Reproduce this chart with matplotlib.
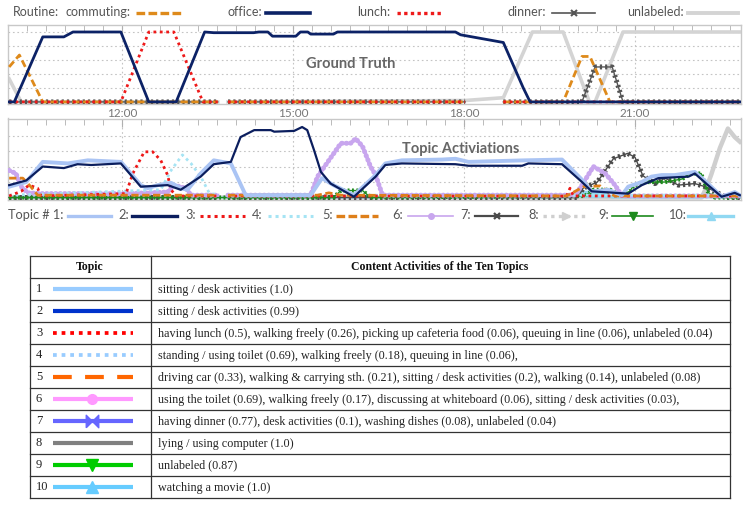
import numpy as np
import matplotlib
matplotlib.use("Agg")
import matplotlib.pyplot as plt
from matplotlib.ticker import MultipleLocator, FixedLocator

nan = np.nan

# ---------------- Ground truth routines (time in hours, activation 0..1) -------------
commuting_t = [10.02, 10.20, 10.61, 13.68, 13.77, 13.86, 18.02, 18.30, 18.69, 19.74, 20.07, 20.21, 20.56, 22.84]
commuting_v = [0.50, 0.67, 0.00, 0.00, nan, 0.00, 0.00, nan, 0.00, 0.00, 0.65, 0.65, 0.00, 0.00]

office_t = [10.02, 10.11, 10.61, 10.98, 11.14, 11.98, 12.47, 12.95, 13.45, 13.61, 14.31, 14.40, 14.56,
            14.64, 15.05, 15.13, 15.26, 15.31, 15.71, 15.78, 17.85, 17.94, 18.69, 19.04, 19.16, 22.84]
office_v = [0.00, 0.00, 0.93, 0.93, 1.00, 1.00, 0.00, 0.00, 1.00, 0.99, 0.99, 1.00, 1.00,
            0.94, 0.94, 1.00, 1.00, 0.97, 0.97, 1.00, 1.00, 0.96, 0.85, 0.20, 0.00, 0.00]

lunch_t = [10.02, 11.98, 12.47, 12.91, 13.42, 13.68, 13.77, 13.86, 18.02, 18.30, 18.69, 22.84]
lunch_v = [0.00, 0.00, 1.00, 1.00, 0.00, 0.00, nan, 0.00, 0.00, nan, 0.00, 0.00]

dinner_t = [10.02, 13.68, 13.77, 13.86, 18.02, 18.30, 18.69, 20.07, 20.30, 20.60, 20.79, 22.84]
dinner_v = [0.00, 0.00, nan, 0.00, 0.00, nan, 0.00, 0.00, 0.50, 0.50, 0.00, 0.00]

unlabeled_t = [10.02, 10.23, 13.68, 13.77, 13.86, 18.02, 18.69, 19.20, 19.74, 20.20, 20.30, 20.79, 22.84]
unlabeled_v = [0.33, 0.00, 0.00, nan, 0.00, 0.02, 0.06, 1.00, 1.00, 0.00, 0.00, 1.00, 1.00]

# ---------------- Topic activations -------------
t1_t = [10.02, 10.32, 10.61, 11.05, 11.40, 11.98, 12.33, 12.45, 12.63, 12.86, 13.03, 13.15, 13.38, 13.61,
        13.91, 14.17, 15.31, 15.51, 15.71, 16.07, 16.45, 16.62, 16.91, 17.61, 17.85, 18.08, 19.07, 19.72,
        20.07, 20.24, 20.53, 20.77, 20.88, 21.12, 21.29, 21.47, 21.70, 22.05, 22.28, 22.52, 22.75, 22.84]
t1_v = [0.14, 0.20, 0.46, 0.44, 0.48, 0.46, 0.16, 0.12, 0.16, 0.19, 0.12, 0.10, 0.31, 0.48,
        0.44, 0.03, 0.03, 0.25, 0.16, 0.03, 0.29, 0.44, 0.48, 0.49, 0.50, 0.46, 0.48, 0.49,
        0.23, 0.08, 0.10, 0.03, 0.14, 0.20, 0.27, 0.29, 0.29, 0.33, 0.18, 0.01, 0.07, 0.03]

t2_t = [10.02, 10.32, 10.61, 10.98, 11.22, 11.46, 11.98, 12.33, 12.80, 13.03, 13.38, 13.61, 13.91, 14.08,
        14.32, 14.61, 14.67, 15.02, 15.16, 15.25, 15.37, 15.49, 15.66, 16.07, 16.45, 16.62, 16.91, 17.85,
        18.08, 19.02, 19.13, 19.72, 20.07, 20.24, 20.88, 21.12, 21.41, 21.94, 22.05, 22.28, 22.52, 22.75, 22.84]
t2_v = [0.16, 0.22, 0.40, 0.38, 0.43, 0.42, 0.44, 0.14, 0.16, 0.10, 0.27, 0.43, 0.46, 0.78,
        0.87, 0.87, 0.85, 0.86, 0.91, 0.87, 0.61, 0.33, 0.18, 0.01, 0.27, 0.42, 0.44, 0.43,
        0.41, 0.41, 0.44, 0.43, 0.20, 0.08, 0.05, 0.16, 0.25, 0.27, 0.31, 0.16, 0.01, 0.06, 0.03]

t3_t = [10.02, 10.23, 10.37, 10.52, 10.58, 12.07, 12.19, 12.39, 12.54, 12.68, 12.80, 12.86, 12.95,
        13.68, 13.77, 13.86, 19.80, 19.86, 19.92, 22.84]
t3_v = [0.02, 0.08, 0.16, 0.12, 0.02, 0.05, 0.31, 0.59, 0.59, 0.48, 0.29, 0.10, 0.02,
        0.02, nan, 0.02, 0.02, 0.12, 0.02, 0.02]

t4_t = [10.02, 12.68, 12.86, 13.06, 13.21, 13.38, 13.53, 13.68, 13.77, 13.86, 22.84]
t4_v = [0.03, 0.10, 0.35, 0.55, 0.44, 0.27, 0.06, 0.03, nan, 0.03, 0.03]

t5_t = [10.02, 10.26, 10.40, 10.52, 13.68, 13.77, 13.86, 15.43, 15.63, 15.84, 19.80, 20.10, 20.39, 20.56, 20.65, 22.84]
t5_v = [0.25, 0.25, 0.14, 0.03, 0.03, nan, 0.03, 0.03, 0.06, 0.03, 0.02, 0.14, 0.15, 0.05, 0.02, 0.02]

t6_t = [10.02, 10.14, 10.23, 10.35, 10.60, 12.07, 12.80, 12.91, 13.12, 13.21, 13.68, 13.77, 13.86,
        15.31, 15.43, 15.63, 15.84, 16.01, 16.10, 16.22, 16.36, 16.45, 16.57, 19.95, 20.07, 20.27,
        20.48, 20.65, 20.77, 22.84]
t6_v = [0.35, 0.31, 0.14, 0.06, 0.05, 0.05, 0.07, 0.16, 0.12, 0.03, 0.03, nan, 0.03,
        0.03, 0.27, 0.48, 0.70, 0.70, 0.76, 0.66, 0.40, 0.29, 0.03, 0.03, 0.16, 0.40,
        0.31, 0.16, 0.02, 0.02]

t7_t = [10.02, 13.68, 13.77, 13.86, 20.00, 20.09, 20.34, 20.48, 20.62, 20.87, 21.00, 21.14, 21.35,
        21.53, 21.76, 22.05, 22.23, 22.40, 22.60, 22.84]
t7_v = [0.00, 0.00, nan, 0.00, 0.00, 0.12, 0.20, 0.35, 0.50, 0.57, 0.52, 0.28, 0.18,
        0.25, 0.16, 0.18, 0.14, 0.08, 0.00, 0.00]

t8_t = [10.02, 22.17, 22.26, 22.34, 22.49, 22.63, 22.75, 22.84]
t8_v = [0.00, 0.00, 0.14, 0.30, 0.64, 0.89, 0.78, 0.72]

t9_t = [10.02, 15.71, 15.84, 16.22, 16.36, 20.12, 20.27, 20.56, 20.74, 20.91, 20.97, 21.13, 21.53,
        21.83, 21.97, 22.16, 22.28, 22.40, 22.84]
t9_v = [0.00, 0.00, 0.09, 0.09, 0.00, 0.02, 0.10, 0.10, 0.03, 0.08, 0.15, 0.20, 0.20,
        0.24, 0.31, 0.31, 0.07, 0.00, 0.00]

t10_t = [10.02, 19.78, 19.90, 20.00, 20.30, 20.50, 20.60, 22.84]
t10_v = [0.00, 0.00, 0.05, 0.07, 0.08, 0.05, 0.00, 0.00]

hour_ticks = [12, 15, 18, 21]
hour_labels = ["12:00", "15:00", "18:00", "21:00"]

routine_names = ["commuting:", "office:", "lunch:", "dinner:", "unlabeled:"]
topic_names = ["Topic # 1:", "2:", "3:", "4:", "5:", "6:", "7:", "8:", "9:", "10:"]

table_topics = ["1", "2", "3", "4", "5", "6", "7", "8", "9", "10"]
table_desc = [
    "sitting / desk activities (1.0)",
    "sitting / desk activities (0.99)",
    "having lunch (0.5), walking freely (0.26), picking up cafeteria food (0.06), queuing in line (0.06), unlabeled (0.04)",
    "standing / using toilet (0.69), walking freely (0.18), queuing in line (0.06),",
    "driving car (0.33), walking & carrying sth. (0.21), sitting / desk activities (0.2), walking (0.14), unlabeled (0.08)",
    "using the toilet (0.69), walking freely (0.17), discussing at whiteboard (0.06), sitting / desk activities (0.03),",
    "having dinner (0.77), desk activities (0.1), washing dishes (0.08), unlabeled (0.04)",
    "lying / using computer (1.0)",
    "unlabeled (0.87)",
    "watching a movie (1.0)",
]

# ---------------- styles ----------------
SANS = ["Lato", "DejaVu Sans"]
SERIF = ["Liberation Serif", "DejaVu Serif"]
TXT = "#555555"

C_COMM = "#de8a1b"
C_OFF = "#0c2266"
C_LUNCH = "#ee1a1a"
C_DIN = "#555555"
C_UNL = "#d4d4d4"

C1, C2, C3, C4, C5 = "#aac4f4", "#0b1e5e", "#ee1818", "#a6e4f4", "#de7f1a"
C6, C7, C8, C9, C10 = "#c8a6ee", "#4a4a4a", "#cfcfcf", "#1d8a1d", "#90d8f2"

W, H = 751, 505
fig = plt.figure(figsize=(W / 100, H / 100), dpi=100)

# overlay axes in pixel coordinates (legends, table)
axo = fig.add_axes([0, 0, 1, 1])
axo.set_xlim(0, W)
axo.set_ylim(H, 0)
axo.axis("off")


def px_axes(l, t, r, b):
    return fig.add_axes([l / W, 1 - b / H, (r - l) / W, (b - t) / H])


def style_axes(ax, ylim, grid_levels):
    ax.set_xlim(10.0, 22.86)
    ax.set_ylim(*ylim)
    ax.set_facecolor("white")
    for s in ax.spines.values():
        s.set_color("#c8c8c8")
        s.set_linewidth(1.0)
    ax.xaxis.set_major_locator(FixedLocator(hour_ticks))
    ax.xaxis.set_minor_locator(MultipleLocator(1 / 3))
    ax.tick_params(axis="x", which="major", bottom=False, top=True, direction="in",
                   length=6, color="#b0b0b0", labelbottom=False, labeltop=False)
    ax.tick_params(axis="x", which="minor", bottom=False, top=True, direction="in",
                   length=4, color="#b0b0b0")
    ax.set_yticks([])
    for g in grid_levels:
        ax.axhline(g, color="#c4c4c4", lw=0.8, ls=(0, (1.5, 2.5)), zorder=0)
    for h in hour_ticks:
        ax.axvline(h, color="#c4c4c4", lw=0.8, ls=(0, (1.5, 2.5)), zorder=0)


def dense(ax, t, v, color, lw_line, lw_band, z, pattern=(0.45, 0.6)):
    ax.plot(t, v, color=color, lw=lw_line, zorder=z, solid_joinstyle="round")
    ax.plot(t, v, color=color, lw=lw_band, ls=(0, pattern), zorder=z)


# ---------------- Top panel: ground truth ----------------
ax1 = px_axes(8, 25, 741, 104)
style_axes(ax1, (-0.03, 1.1), [0.2, 0.4, 0.6, 0.8, 1.0])
ax1.plot(unlabeled_t, unlabeled_v, color=C_UNL, lw=2.6, zorder=2)
dense(ax1, dinner_t, dinner_v, C_DIN, 1.0, 3.6, 3)
ax1.plot(commuting_t, commuting_v, color=C_COMM, lw=2.0, ls=(0, (2.6, 1.3)), zorder=4)
ax1.plot(lunch_t, lunch_v, color=C_LUNCH, lw=2.0, ls=(0, (1, 1.3)), zorder=5)
ax1.plot(office_t, office_v, color=C_OFF, lw=2.0, zorder=6, solid_joinstyle="round")
ax1.text(0.468, 0.51, "Ground Truth", transform=ax1.transAxes, ha="center", va="center",
         fontsize=10.5, fontweight="bold", color="#666666", family=SANS, zorder=10)
ax1.tick_params(axis="x", which="major", labelbottom=True, pad=3, labelsize=8.5,
                labelcolor="#777777")
ax1.set_xticklabels(hour_labels, family=SANS)

# ---------------- Bottom panel: topic activations ----------------
ax2 = px_axes(8, 118.5, 741, 200)
style_axes(ax2, (-0.032, 1.02), [0.2, 0.4, 0.6, 0.8])
ax2.plot(t8_t, t8_v, color=C8, lw=3.2, zorder=2)
ax2.fill_between(t10_t, 0, t10_v, color=C10, lw=0, zorder=2)
ax2.plot(t10_t, t10_v, color=C10, lw=1.5, zorder=2)
dense(ax2, t7_t, t7_v, C7, 1.0, 3.6, 3)
dense(ax2, t9_t, t9_v, C9, 1.0, 3.0, 3)
ax2.plot(t6_t, t6_v, color=C6, lw=2.2, zorder=4)
ax2.plot(t6_t, t6_v, color=C6, lw=3.6, ls=(0, (0.1, 0.8)), dash_capstyle="round", zorder=4)
ax2.plot(t4_t, t4_v, color=C4, lw=2.0, ls=(0, (1, 1.3)), zorder=4)
ax2.plot(t3_t, t3_v, color=C3, lw=2.0, ls=(0, (1, 1.3)), zorder=5)
ax2.plot(t5_t, t5_v, color=C5, lw=2.0, ls=(0, (2.6, 1.3)), zorder=5)
ax2.plot(t1_t, t1_v, color=C1, lw=2.8, zorder=6, solid_joinstyle="round")
ax2.plot(t2_t, t2_v, color=C2, lw=1.6, zorder=7, solid_joinstyle="round")
ax2.text(0.617, 0.63, "Topic Activiations", transform=ax2.transAxes, ha="center", va="center",
         fontsize=10.5, fontweight="bold", color="#666666", family=SANS, zorder=10)

# ---------------- Routine legend (top row) ----------------
ly = 12
FS1 = 9.0
axo.text(13, ly, "Routine:", ha="left", va="center", fontsize=FS1, color=TXT, family=SANS)
leg1 = [(65, 136, 181, dict(color=C_COMM, lw=2.4, ls=(0, (2.6, 1.0)))),
        (227, 266, 310, dict(color=C_OFF, lw=2.6)),
        (357, 397, 442, dict(color=C_LUNCH, lw=2.4, ls=(0, (1, 1.0)))),
        (507, 552, 595, dict(color=C_DIN, lw=1.2)),
        (627, 688, 738, dict(color=C_UNL, lw=2.8))]
for name, (xt, x0, x1, st) in zip(routine_names, leg1):
    axo.text(xt, ly, name, ha="left", va="center", fontsize=FS1, color=TXT, family=SANS)
    axo.plot([x0, x1], [ly + 1, ly + 1], **st)
axo.plot([573.5], [ly + 1], marker="x", color=C_DIN, ms=4.5, mew=1.5)

# ---------------- Topic legend (under bottom panel) ----------------
ly2 = 215
FS2 = 9.2
leg2 = [(8, 68, 111, dict(color=C1, lw=2.4)),
        (118, 132, 177, dict(color=C2, lw=2.4)),
        (185, 200, 245, dict(color=C3, lw=2.2, ls=(0, (1, 1.3)))),
        (252, 268, 313, dict(color=C4, lw=2.2, ls=(0, (1, 1.3)))),
        (322, 336, 378, dict(color=C5, lw=2.4, ls=(0, (2.6, 1.0)))),
        (392, 408, 453, dict(color=C6, lw=1.2)),
        (460, 475, 518, dict(color=C7, lw=1.6)),
        (528, 543, 588, dict(color=C8, lw=2.4, ls=(0, (1, 1.3)))),
        (598, 612, 653, dict(color=C9, lw=1.2)),
        (668, 688, 733, dict(color=C10, lw=2.4))]
marks2 = {5: dict(marker="o", ms=4, color=C6),
          6: dict(marker="x", ms=5, mew=1.6, color=C7),
          7: dict(marker=">", ms=6, color=C8),
          8: dict(marker="v", ms=6, color=C9),
          9: dict(marker="^", ms=6, color=C10)}
for i, (name, (xt, x0, x1, st)) in enumerate(zip(topic_names, leg2)):
    axo.text(xt, ly2, name, ha="left", va="center", fontsize=FS2, color=TXT, family=SANS)
    axo.plot([x0, x1], [ly2 + 1, ly2 + 1], **st)
    if i in marks2:
        axo.plot([(x0 + x1) / 2], [ly2 + 1], lw=0, **marks2[i])

# ---------------- Table ----------------
tl, tr, tdiv = 30, 730, 150.5
htop, rtop, rh = 256, 278, 22
tbot = rtop + rh * len(table_topics)
lc = "#333333"
for yy in [htop] + [rtop + i * rh for i in range(len(table_topics) + 1)]:
    axo.plot([tl, tr], [yy, yy], color=lc, lw=0.9)
for xx in [tl, tdiv, tr]:
    axo.plot([xx, xx], [htop, tbot], color=lc, lw=0.9)
axo.text(90, (htop + rtop) / 2, "Topic", ha="center", va="center", fontsize=8.5,
         fontweight="bold", family=SERIF, color="#111111")
axo.text(440, (htop + rtop) / 2, "Content Activities of the Ten Topics", ha="center",
         va="center", fontsize=8.5, fontweight="bold", family=SERIF, color="#111111")

sample_styles = [
    dict(color="#99ccff", lw=3.0),
    dict(color="#0033cc", lw=3.0),
    dict(color="#ff0000", lw=2.7, ls=(0, (1, 1.3))),
    dict(color="#99ccff", lw=2.7, ls=(0, (1, 1.3))),
    dict(color="#ff6600", lw=3.0, ls=(0, (4.5, 3.2))),
    dict(color="#ff99ff", lw=3.0),
    dict(color="#6666ff", lw=3.0),
    dict(color="#808080", lw=3.0),
    dict(color="#00cc00", lw=3.0),
    dict(color="#66ccff", lw=3.0),
]
bowtie = [(-1, -1), (-1, 1), (1, -1), (1, 1), (-1, -1)]
sample_marks = {5: dict(marker="o", ms=7, color="#ff99ff"),
                6: dict(marker=bowtie, ms=9, color="#6666ff"),
                8: dict(marker="v", ms=8, color="#00cc00"),
                9: dict(marker="^", ms=8, color="#66ccff")}
for i, (num, desc) in enumerate(zip(table_topics, table_desc)):
    cy = rtop + i * rh + rh / 2
    axo.text(36, cy + 0.5, num, ha="left", va="center", fontsize=9, family=SERIF, color="#222222")
    axo.plot([53, 133], [cy, cy], solid_capstyle="butt", **sample_styles[i])
    if i in sample_marks:
        axo.plot([92], [cy], lw=0, **sample_marks[i])
    axo.text(158, cy + 0.5, desc, ha="left", va="center", fontsize=8.7, family=SERIF, color="#222222")

fig.savefig("out.png", dpi=100)
